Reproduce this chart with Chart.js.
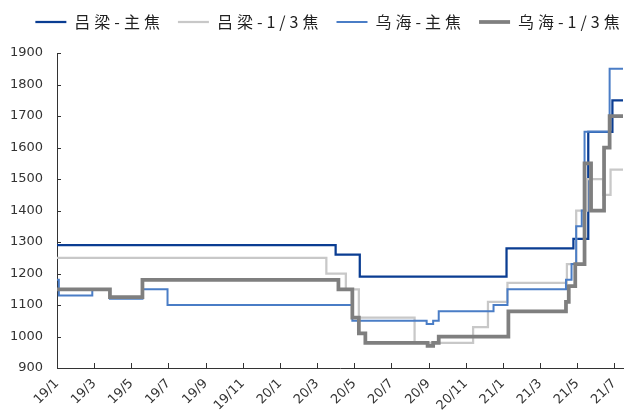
<!DOCTYPE html>
<html>
<head>
<meta charset="utf-8">
<script src="https://cdn.jsdelivr.net/npm/chart.js@4.4.0/dist/chart.umd.min.js"></script>
<style>
  body { margin: 0; background: #fff; }
  canvas { display: block; }
</style>
</head>
<body>
<canvas id="cokeChart" width="628" height="416"></canvas>
<script>
// x values are months counted from 2019-01 (0 = 19/1), each point = price from that month on
var monthLabels = ["19/1", "19/3", "19/5", "19/7", "19/9", "19/11", "20/1", "20/3", "20/5",
    "20/7", "20/9", "20/11", "21/1", "21/3", "21/5", "21/7"];

var seriesNames = ["吕梁-主焦", "吕梁-1/3焦", "乌海-主焦", "乌海-1/3焦"];

// 吕梁-主焦
var lvZhuMonth = [0, 15.0, 16.3, 24.2, 27.8, 28.6, 29.9, 30.47];
var lvZhuPrice = [1290, 1260, 1190, 1280, 1310, 1650, 1750, 1750];

// 吕梁-1/3焦
var lvThirdMonth = [0, 14.5, 15.55, 16.25, 19.25, 22.4, 23.2, 24.25, 27.45, 27.95, 28.55, 29.4, 29.8, 30.47];
var lvThirdPrice = [1250, 1200, 1150, 1060, 980, 1030, 1110, 1170, 1230, 1400, 1500, 1450, 1530, 1530];

// 乌海-主焦
var whZhuMonth = [0, 0.1, 1.9, 2.85, 4.6, 5.95, 15.9, 19.9, 20.25, 20.55, 23.5, 24.25, 27.4, 27.7, 27.95, 28.25, 28.4, 29.75, 30.47];
var whZhuPrice = [1180, 1130, 1150, 1120, 1150, 1100, 1050, 1040, 1050, 1080, 1100, 1150, 1180, 1230, 1350, 1400, 1650, 1850, 1850];

// 乌海-1/3焦
var whThirdMonth = [0, 2.85, 4.6, 15.15, 15.9, 16.25, 16.6, 19.95, 20.25, 20.55, 24.3, 27.4, 27.55, 27.9, 28.4, 28.75, 29.45, 29.75, 30.47];
var whThirdPrice = [1150, 1125, 1180, 1150, 1060, 1010, 980, 970, 980, 1000, 1080, 1110, 1160, 1230, 1550, 1400, 1600, 1700, 1700];

var yTicks = [900, 1000, 1100, 1200, 1300, 1400, 1500, 1600, 1700, 1800, 1900];

// Turns two arrays into {x, y} points for the chart
function toPoints(months, prices) {
    return months.map(function (m, i) { return { x: m, y: prices[i] }; });
}

// Draws the small tick marks on the inside of the axes, like the original
var innerTicks = {
    id: "innerTicks",
    afterDraw: function (chart) {
        var ctx = chart.ctx;
        var area = chart.chartArea;
        var x = chart.scales.x;
        var y = chart.scales.y;
        ctx.save();
        ctx.strokeStyle = "#333";
        ctx.lineWidth = 1;
        ctx.beginPath();
        y.ticks.forEach(function (t) {
            var py = Math.round(y.getPixelForValue(t.value)) + 0.5;
            ctx.moveTo(area.left, py);
            ctx.lineTo(area.left + 4, py);
        });
        x.ticks.forEach(function (t) {
            var px = Math.round(x.getPixelForValue(t.value)) + 0.5;
            ctx.moveTo(px, area.bottom);
            ctx.lineTo(px, area.bottom - 5);
        });
        ctx.stroke();
        ctx.restore();
    }
};

// Legend tweaks: letter spacing, more room below it, and a shift to the right
var legendShift = 18;
var legendSpacing = {
    id: "legendSpacing",
    beforeUpdate: function (chart) {
        var lg = chart.legend;
        if (!lg || lg._spaced) return;
        lg._spaced = true;
        var origFit = lg.fit.bind(lg);
        var origDraw = lg.draw.bind(lg);
        lg.fit = function () {
            chart.ctx.save();
            chart.ctx.letterSpacing = "4px";
            origFit();
            chart.ctx.restore();
            lg.height += 13;
        };
        lg.draw = function () {
            chart.ctx.save();
            chart.ctx.letterSpacing = "4px";
            lg.left += legendShift;
            lg.right += legendShift;
            origDraw();
            lg.left -= legendShift;
            lg.right -= legendShift;
            chart.ctx.restore();
        };
    }
};

var tickFont = { family: "DejaVu Sans", size: 13 };

new Chart("cokeChart", {
    type: "line",
    data: {
        datasets: [{
            label: seriesNames[0],
            data: toPoints(lvZhuMonth, lvZhuPrice),
            borderColor: "#0a3d92",
            backgroundColor: "#0a3d92",
            borderWidth: 2.25,
            order: 4
        }, {
            label: seriesNames[1],
            data: toPoints(lvThirdMonth, lvThirdPrice),
            borderColor: "#c8c8c8",
            backgroundColor: "#c8c8c8",
            borderWidth: 2.25,
            order: 3
        }, {
            label: seriesNames[2],
            data: toPoints(whZhuMonth, whZhuPrice),
            borderColor: "#4a7dc6",
            backgroundColor: "#4a7dc6",
            borderWidth: 2,
            order: 2
        }, {
            label: seriesNames[3],
            data: toPoints(whThirdMonth, whThirdPrice),
            borderColor: "#7f7f7f",
            backgroundColor: "#7f7f7f",
            borderWidth: 3.75,
            order: 1
        }]
    },
    options: {
        responsive: false,
        animation: false,
        devicePixelRatio: 1,
        elements: {
            line: { stepped: "before", tension: 0 },
            point: { radius: 0, hoverRadius: 0 }
        },
        layout: { padding: { left: 0, right: 5, top: 0, bottom: 0 } },
        plugins: {
            tooltip: { enabled: false },
            legend: {
                position: "top",
                labels: {
                    usePointStyle: true,
                    pointStyle: "line",
                    pointStyleWidth: 31,
                    padding: 14,
                    color: "#222",
                    font: { family: "Noto Sans CJK SC", size: 16 },
                    sort: function (a, b) { return a.datasetIndex - b.datasetIndex; }
                }
            }
        },
        scales: {
            x: {
                type: "linear",
                min: 0,
                max: 30.47,
                afterBuildTicks: function (scale) {
                    scale.ticks = monthLabels.map(function (_, i) { return { value: i * 2 }; });
                },
                afterFit: function (scale) {
                    scale.height = 48;
                    scale.paddingRight = 0;
                },
                grid: { display: false, drawTicks: false },
                border: { display: true, color: "#333", width: 1 },
                ticks: {
                    autoSkip: false,
                    maxRotation: 45,
                    minRotation: 45,
                    padding: 8,
                    color: "#333",
                    font: tickFont,
                    callback: function (value) { return monthLabels[Math.round(value / 2)]; }
                }
            },
            y: {
                min: 900,
                max: 1900,
                afterBuildTicks: function (scale) {
                    scale.ticks = yTicks.map(function (v) { return { value: v }; });
                },
                afterFit: function (scale) { scale.width = 57; },
                grid: { display: false, drawTicks: false },
                border: { display: true, color: "#333", width: 1 },
                ticks: {
                    padding: 14,
                    color: "#333",
                    font: tickFont,
                    callback: function (value) { return String(value); }
                }
            }
        }
    },
    plugins: [legendSpacing, innerTicks]
});
</script>
</body>
</html>
